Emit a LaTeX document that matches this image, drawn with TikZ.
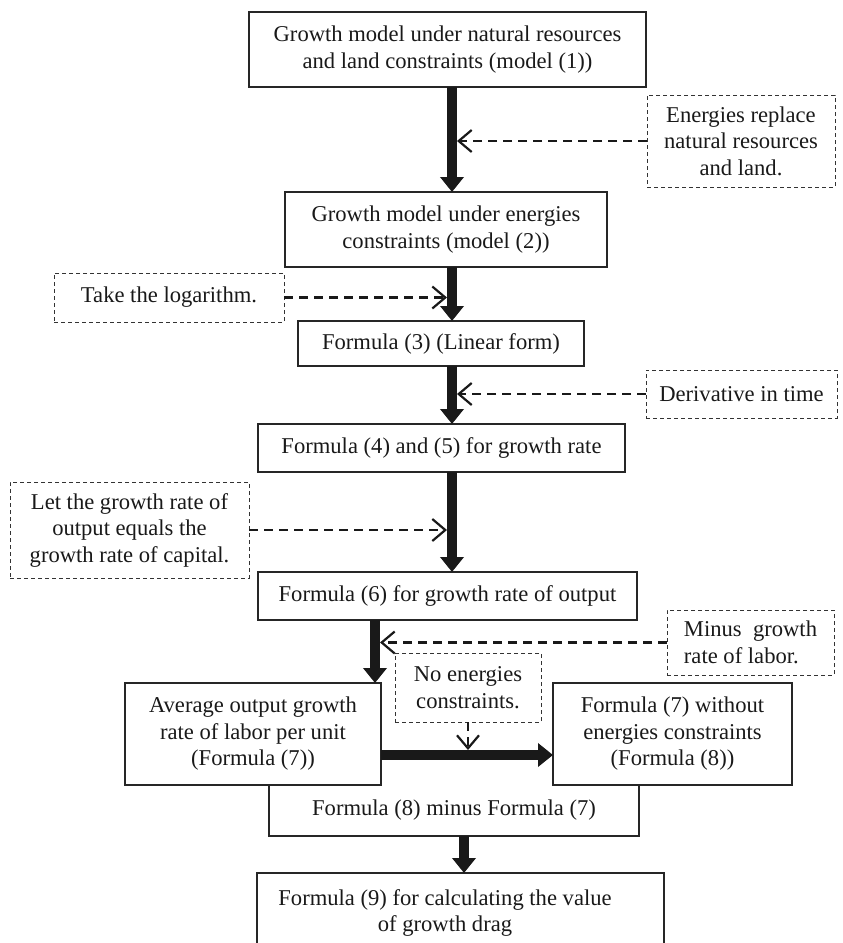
\documentclass[tikz,border=0pt]{standalone}
\usepackage{fontspec}
\setmainfont{Liberation Serif}
\usetikzlibrary{arrows.meta}

\begin{document}
\begin{tikzpicture}[x=1pt,y=-1pt,
  main node/.style={draw=black!85,line width=1.2pt,inner sep=0pt,outer sep=0pt,align=center,text=black!90,font=\fontsize{22.6}{26.5}\selectfont},
  note node/.style={draw=black!80,dash pattern=on 4pt off 3pt,line width=1pt,inner sep=0pt,outer sep=0pt,align=center,text=black!90,font=\fontsize{22.6}{26.5}\selectfont},
  fat arrow/.style={draw=black!90,line width=10pt,-{Triangle[length=15pt,width=23pt]}},
  note arrow/.style={draw=black!90,line width=2.4pt,dash pattern=on 9pt off 6pt,-{Straight Barb[length=13pt,width=22pt,line width=2.2pt]}}]

 \useasboundingbox (0,0) rectangle (843,943);

 \node[main node,minimum width=397,minimum height=75] (1) at (447.5,49.5) {Growth model under natural resources\\and land constraints (model (1))};
 \node[main node,minimum width=322,minimum height=75] (2) at (446,229.5) {Growth model under energies\\constraints (model (2))};
 \node[main node,minimum width=286,minimum height=45] (3) at (441,343.5) {Formula (3) (Linear form)};
 \node[main node,minimum width=367,minimum height=48] (45) at (441.5,448) {Formula (4) and (5) for growth rate};
 \node[main node,minimum width=379,minimum height=48] (6) at (447.5,596) {Formula (6) for growth rate of output};
 \node[main node,minimum width=256,minimum height=102] (7) at (253,734) {Average output growth\\rate of labor per unit\\(Formula (7))};
 \node[main node,minimum width=239,minimum height=102] (8) at (672.5,734) {Formula (7) without\\energies constraints\\(Formula (8))};
 \node[main node,draw=none,minimum width=370,minimum height=51] (87) at (454,810.5) {Formula (8) minus Formula (7)};
 \node[main node,draw=none,minimum width=407,minimum height=80] (9) at (460.5,913) {\hspace*{-31pt}Formula (9) for calculating the value\\\hspace*{-31pt}of growth drag};

 \node[note node,minimum width=188,minimum height=92] (a) at (741,141) {Energies replace\\natural resources\\and land.};
 \node[note node,minimum width=230,minimum height=49] (b) at (169,297.5) {Take the logarithm.};
 \node[note node,minimum width=191,minimum height=48] (c) at (741.5,394) {Derivative in time};
 \node[note node,minimum width=239,minimum height=96] (d) at (129.5,530) {Let the growth rate of\\output equals the\\growth rate of capital.};
 \node[note node,minimum width=167,minimum height=65,align=left] (e) at (750.5,642.5) {Minus\ \ growth\\rate of labor.};
 \node[note node,minimum width=146,minimum height=69] (f) at (468,687.5) {No energies\\constraints.};

 \coordinate (ax) at (452,0);
 \coordinate (ax5) at (375,0);
 \coordinate (ax6) at (464,0);
 \coordinate (hy) at (0,755);
 \coordinate (tr) at (457,0);
 \coordinate (tl) at (447,0);
 \coordinate (tr5) at (380,0);
 \coordinate (ty) at (0,750);

 \draw[line width=1.2pt,black!85] (7.south -| 87.west) -- (87.south west) -- (87.south east) -- (8.south -| 87.east);
 \draw[line width=1.2pt,black!85] (9.south west) -- (9.north west) -- (9.north east) -- (9.south east);

 \path
    (1.south -| ax)   edge [fat arrow] (2.north -| ax)
    (2.south -| ax)   edge [fat arrow] (3.north -| ax)
    (3.south -| ax)   edge [fat arrow] (45.north -| ax)
    (45.south -| ax)  edge [fat arrow] (6.north -| ax)
    (6.south -| ax5)  edge [fat arrow] (7.north -| ax5)
    (7.east |- hy)    edge [fat arrow] (8.west |- hy)
    (87.south -| ax6) edge [fat arrow] (9.north -| ax6)
    (a.west)  edge [note arrow] (a.west -| tr)
    (b.east)  edge [note arrow] (b.east -| tl)
    (c.west)  edge [note arrow] (c.west -| tr)
    (d.east)  edge [note arrow] (d.east -| tl)
    (e.west)  edge [note arrow] (e.west -| tr5)
    (f.south) edge [note arrow] (f.south |- ty);

\end{tikzpicture}
\end{document}
